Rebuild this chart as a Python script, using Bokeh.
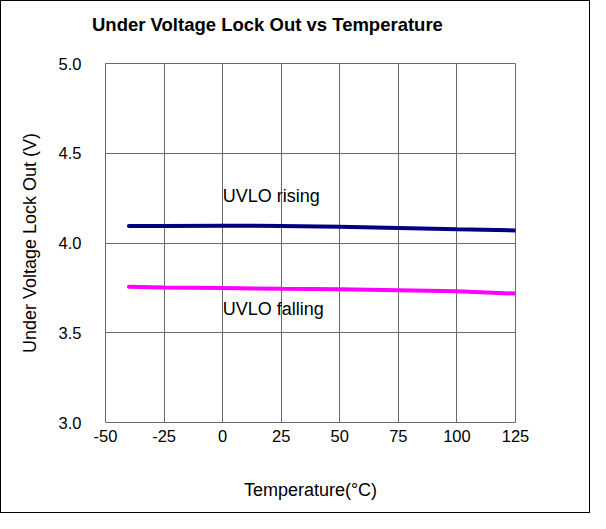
from bokeh.plotting import figure
from bokeh.models import Label, FixedTicker, NumeralTickFormatter, Range1d, Title
from bokeh.embed import file_html
from bokeh.resources import INLINE

# Data
temperature = [-40, -25, 0, 25, 50, 75, 100, 125]
uvlo_rising = [4.095, 4.095, 4.096, 4.095, 4.090, 4.083, 4.076, 4.070]
uvlo_falling = [3.756, 3.752, 3.749, 3.745, 3.742, 3.737, 3.731, 3.718]
x_ticks = [-50, -25, 0, 25, 50, 75, 100, 125]
y_ticks = [3.0, 3.5, 4.0, 4.5, 5.0]
title_text = "Under Voltage Lock Out vs Temperature"

FONT = "Liberation Sans"
GRID = "#6a6a6a"

p = figure(width=590, height=513, output_backend="svg", toolbar_location=None,
           x_range=Range1d(-50, 125), y_range=Range1d(3.0, 5.0),
           min_border_left=104, min_border_right=76, min_border_top=62, min_border_bottom=92)
p.styles = {"border": "1px solid black"}

xax = p.xaxis[0]
yax = p.yaxis[0]

# blank spacer between frame and title (pushes the title up)
p.add_layout(Title(text=" ", text_font_size="1px", standoff=24), "above")

p.title = Title(text=title_text, align="left", offset=-13.5,
                text_font=FONT, text_font_size="18.5px", text_font_style="bold",
                text_color="black", vertical_align="bottom", standoff=4)

p.line(temperature, uvlo_rising, line_color="#000080", line_width=4, line_cap="round")
p.line(temperature, uvlo_falling, line_color="#FF00FF", line_width=4, line_cap="round")

p.add_layout(Label(x=0, y=4.262, text="UVLO rising", text_baseline="middle", text_align="left",
                   text_font=FONT, text_font_size="18px", text_color="black"))
p.add_layout(Label(x=0, y=3.632, text="UVLO falling", text_baseline="middle", text_align="left",
                   text_font=FONT, text_font_size="18px", text_color="black"))

xax.ticker = FixedTicker(ticks=x_ticks)
yax.ticker = FixedTicker(ticks=y_ticks)
yax.formatter = NumeralTickFormatter(format="0.0")
xax.major_label_overrides = {t: str(t) for t in x_ticks}

for ax in (xax, yax):
    ax.axis_line_color = None
    ax.major_tick_line_color = None
    ax.minor_tick_line_color = None
    ax.major_label_text_font = FONT
    ax.major_label_text_font_size = "16.5px"
    ax.major_label_text_color = "black"
    ax.axis_label_text_font = FONT
    ax.axis_label_text_font_size = "18px"
    ax.axis_label_text_font_style = "normal"
    ax.axis_label_text_color = "black"

xax.axis_label = "Temperature(°C)"
yax.axis_label = "Under Voltage Lock Out (V)"
xax.major_label_standoff = 1
xax.axis_label_standoff = 35
yax.major_label_standoff = 18
yax.axis_label_standoff = 16

for g in p.xgrid:
    g.ticker = xax.ticker
    g.grid_line_color = GRID
for g in p.ygrid:
    g.ticker = yax.ticker
    g.grid_line_color = GRID
p.outline_line_color = GRID
p.outline_line_width = 1
p.background_fill_color = "white"
p.border_fill_color = "white"

open("out.html", "w").write(file_html(p, INLINE))
